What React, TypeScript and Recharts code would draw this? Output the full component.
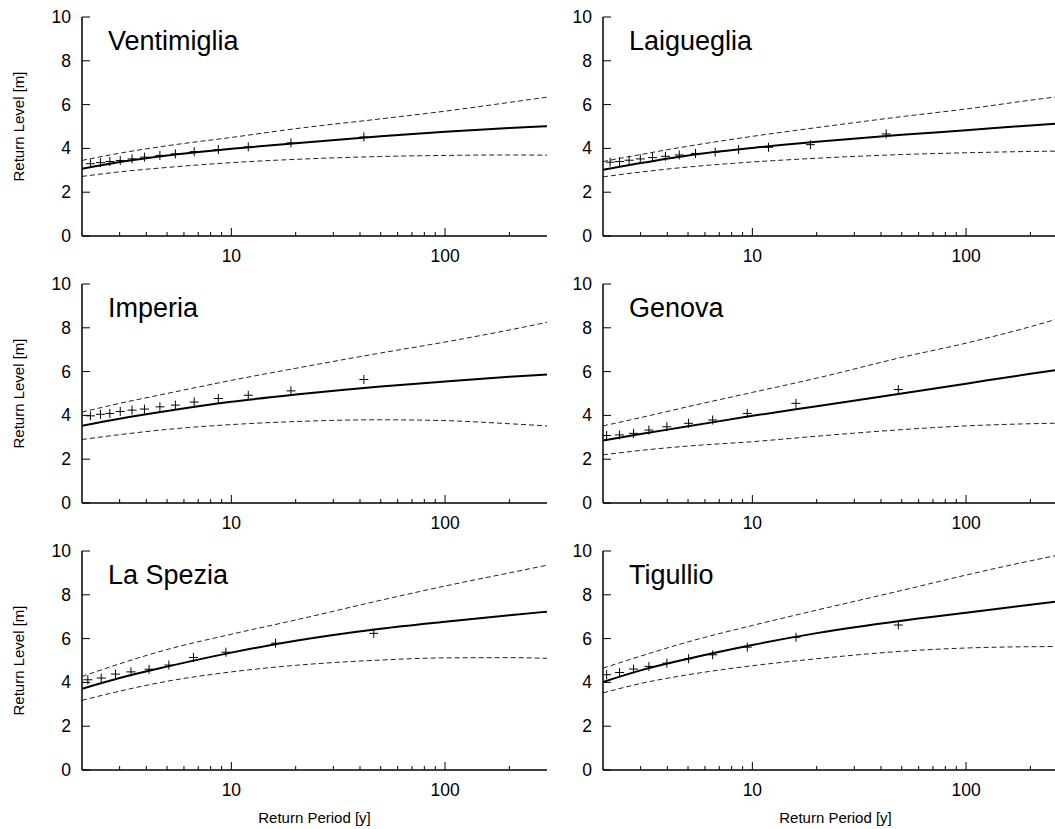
import React from 'react';
import { ComposedChart, Line, Scatter, XAxis, YAxis } from 'recharts';

const FONT = "'Liberation Sans', Arial, Helvetica, sans-serif";

// Return periods at which the fitted curve and its confidence band are sampled
const CURVE_T = [2, 3, 5, 10, 20, 50, 100, 200, 300];
const X_TICKS = [3, 4, 5, 6, 7, 8, 9, 10, 20, 30, 40, 50, 60, 70, 80, 90, 100, 200];
const X_MAJOR = [10, 100];
const Y_TICKS = [0, 2, 4, 6, 8, 10];

// Ventimiglia
const ventimigliaFit = [3.07, 3.38, 3.68, 3.98, 4.24, 4.55, 4.76, 4.93, 5.01];
const ventimigliaUpper = [3.45, 3.78, 4.12, 4.5, 4.9, 5.35, 5.7, 6.1, 6.34];
const ventimigliaLower = [2.72, 2.93, 3.13, 3.35, 3.5, 3.63, 3.68, 3.7, 3.69];
const ventimigliaObsT = [2.19, 2.44, 2.7, 3.02, 3.43, 3.92, 4.63, 5.47, 6.7, 8.69, 12.0, 19.0, 41.7];
const ventimigliaObs = [3.3, 3.35, 3.4, 3.45, 3.52, 3.6, 3.68, 3.75, 3.85, 3.95, 4.07, 4.25, 4.52];

// Laigueglia
const laiguegliaFit = [3.02, 3.33, 3.68, 4.02, 4.3, 4.62, 4.83, 5.05, 5.17];
const laiguegliaUpper = [3.4, 3.72, 4.1, 4.55, 4.95, 5.45, 5.8, 6.2, 6.42];
const laiguegliaLower = [2.7, 2.92, 3.15, 3.38, 3.55, 3.72, 3.8, 3.86, 3.88];
const laiguegliaObsT = [2.16, 2.39, 2.65, 2.99, 3.41, 3.92, 4.55, 5.42, 6.7, 8.62, 11.9, 18.7, 42.3];
const laiguegliaObs = [3.37, 3.4, 3.46, 3.52, 3.58, 3.64, 3.7, 3.77, 3.83, 3.95, 4.05, 4.17, 4.66];

// Imperia
const imperiaFit = [3.53, 3.85, 4.2, 4.62, 4.95, 5.32, 5.55, 5.76, 5.87];
const imperiaUpper = [4.15, 4.55, 5.0, 5.6, 6.15, 6.85, 7.35, 7.9, 8.25];
const imperiaLower = [2.9, 3.12, 3.36, 3.58, 3.72, 3.8, 3.76, 3.62, 3.52];
const imperiaObsT = [2.19, 2.44, 2.7, 3.02, 3.43, 3.92, 4.63, 5.47, 6.7, 8.69, 12.0, 19.0, 41.7];
const imperiaObs = [3.98, 4.05, 4.09, 4.18, 4.24, 4.29, 4.39, 4.47, 4.61, 4.77, 4.92, 5.12, 5.64];

// Genova
const genovaFit = [2.85, 3.15, 3.5, 3.98, 4.42, 5.0, 5.45, 5.9, 6.15];
const genovaUpper = [3.52, 3.9, 4.4, 5.05, 5.7, 6.65, 7.3, 8.05, 8.55];
const genovaLower = [2.2, 2.4, 2.6, 2.8, 3.05, 3.35, 3.52, 3.62, 3.65];
const genovaObsT = [2.08, 2.39, 2.78, 3.28, 3.98, 5.03, 6.52, 9.47, 16.0, 48.2];
const genovaObs = [3.08, 3.11, 3.18, 3.33, 3.48, 3.64, 3.79, 4.09, 4.55, 5.18];

// La Spezia
const laSpeziaFit = [3.71, 4.2, 4.72, 5.36, 5.9, 6.45, 6.77, 7.07, 7.23];
const laSpeziaUpper = [4.27, 4.85, 5.5, 6.2, 6.85, 7.75, 8.4, 9.0, 9.35];
const laSpeziaLower = [3.18, 3.6, 4.05, 4.48, 4.78, 5.02, 5.12, 5.13, 5.1];
const laSpeziaObsT = [2.13, 2.46, 2.87, 3.39, 4.12, 5.1, 6.65, 9.43, 16.1, 46.4];
const laSpeziaObs = [4.12, 4.2, 4.38, 4.48, 4.6, 4.79, 5.14, 5.38, 5.79, 6.24];

// Tigullio
const tigullioFit = [4.02, 4.55, 5.08, 5.71, 6.25, 6.82, 7.18, 7.55, 7.75];
const tigullioUpper = [4.65, 5.2, 5.85, 6.6, 7.3, 8.2, 8.9, 9.55, 9.9];
const tigullioLower = [3.52, 3.95, 4.35, 4.76, 5.08, 5.42, 5.57, 5.63, 5.64];
const tigullioObsT = [2.08, 2.39, 2.78, 3.28, 3.98, 5.03, 6.52, 9.47, 16.0, 48.2];
const tigullioObs = [4.35, 4.45, 4.61, 4.73, 4.88, 5.08, 5.26, 5.61, 6.06, 6.62];

const TITLES = ['Ventimiglia', 'Laigueglia', 'Imperia', 'Genova', 'La Spezia', 'Tigullio'];
const Y_LABEL = 'Return Level [m]';
const X_LABEL = 'Return Period [y]';

// geometry
const PLOT_W = 465;
const PLOT_H = 219;
const LW = 80;
const XH = 62;
const MT = 16;
const MR = 8;
const COL_LEFT = [82, 603];
const ROW_TOP = [17, 284, 551];

const curve = (vals: number[]) => CURVE_T.map((t, i) => ({ t, v: vals[i] }));
const points = (ts: number[], ys: number[]) => ts.map((t, i) => ({ t, y: ys[i] }));

const BottomTick = (p: any) => {
  const { x, y, payload } = p;
  const major = X_MAJOR.includes(payload.value);
  return (
    <g>
      <line x1={x} x2={x} y1={y} y2={y - (major ? 8 : 4)} stroke="#000" strokeWidth={1} />
      {major && (
        <text x={x} y={y + 26} textAnchor="middle" fontSize={17.5} fontFamily={FONT} fill="#000">
          {payload.value}
        </text>
      )}
    </g>
  );
};

const TopTick = (p: any) => {
  const { x, y, payload } = p;
  const major = X_MAJOR.includes(payload.value);
  return <line x1={x} x2={x} y1={y} y2={y + (major ? 8 : 4)} stroke="#000" strokeWidth={1} />;
};

const LeftTick = (p: any) => {
  const { x, y, payload } = p;
  return (
    <g>
      <line x1={x} x2={x + 8} y1={y} y2={y} stroke="#000" strokeWidth={1} />
      <text x={x - 11} y={y + 6} textAnchor="end" fontSize={17.5} fontFamily={FONT} fill="#000">
        {payload.value}
      </text>
    </g>
  );
};

const RightTick = (p: any) => {
  const { x, y } = p;
  return <line x1={x} x2={x - 8} y1={y} y2={y} stroke="#000" strokeWidth={1} />;
};

const Plus = (p: any) => {
  const { cx, cy } = p;
  if (cx == null || cy == null) return null;
  const r = 4.5;
  return (
    <g>
      <line x1={cx - r} x2={cx + r} y1={cy} y2={cy} stroke="#000" strokeWidth={1} />
      <line x1={cx} x2={cx} y1={cy - r} y2={cy + r} stroke="#000" strokeWidth={1} />
    </g>
  );
};

const LeftLabel = (p: any) => {
  const vb = p.viewBox || {};
  const cx = vb.x + 16;
  const cy = vb.y + vb.height / 2;
  return (
    <g>
      {p.showY && (
        <text
          x={cx}
          y={cy}
          transform={`rotate(-90 ${cx} ${cy})`}
          textAnchor="middle"
          dominantBaseline="central"
          fontSize={15}
          fontFamily={FONT}
          fill="#000"
        >
          {Y_LABEL}
        </text>
      )}
      <text x={vb.x + vb.width + 26} y={vb.y + 33} fontSize={27} fontFamily={FONT} fill="#000">
        {p.title}
      </text>
    </g>
  );
};

const BottomLabel = (p: any) => {
  const vb = p.viewBox || {};
  if (!p.show) return null;
  return (
    <text x={vb.x + vb.width / 2} y={vb.y + 53} textAnchor="middle" fontSize={15} fontFamily={FONT} fill="#000">
      {X_LABEL}
    </text>
  );
};

type PanelProps = {
  title: string;
  fit: number[];
  upper: number[];
  lower: number[];
  obsT: number[];
  obs: number[];
  col: number;
  row: number;
};

const Panel = ({ title, fit, upper, lower, obsT, obs, col, row }: PanelProps) => {
  const left = COL_LEFT[col] - LW;
  const top = ROW_TOP[row] - MT;
  const width = LW + PLOT_W + MR;
  const height = MT + PLOT_H + XH;
  return (
    <div style={{ position: 'absolute', left, top, width, height }}>
      <ComposedChart width={width} height={height} margin={{ top: MT, right: MR, left: 0, bottom: 0 }}>
        <XAxis
          xAxisId="b"
          dataKey="t"
          type="number"
          scale="log"
          domain={[2, 300]}
          allowDataOverflow
          ticks={X_TICKS}
          interval={0}
          height={XH}
          tickSize={0}
          tickMargin={0}
          tick={<BottomTick />}
          axisLine={{ stroke: '#000', strokeWidth: 1.5 }}
          tickLine={false}
          label={<BottomLabel show={row === 2} />}
        />
        <XAxis
          xAxisId="t"
          orientation="top"
          dataKey="t"
          type="number"
          scale="log"
          domain={[2, 300]}
          allowDataOverflow
          ticks={X_TICKS}
          interval={0}
          height={0}
          tickSize={0}
          tickMargin={0}
          tick={<TopTick />}
          axisLine={{ stroke: '#000', strokeWidth: 1.5 }}
          tickLine={false}
        />
        <YAxis
          yAxisId="l"
          type="number"
          domain={[0, 10]}
          allowDataOverflow
          ticks={Y_TICKS}
          interval={0}
          width={LW}
          tickSize={0}
          tickMargin={0}
          tick={<LeftTick />}
          axisLine={{ stroke: '#000', strokeWidth: 1.5 }}
          tickLine={false}
          label={<LeftLabel title={title} showY={col === 0} />}
        />
        <YAxis
          yAxisId="r"
          orientation="right"
          type="number"
          domain={[0, 10]}
          allowDataOverflow
          ticks={Y_TICKS}
          interval={0}
          width={0}
          tickSize={0}
          tickMargin={0}
          tick={<RightTick />}
          axisLine={{ stroke: '#000', strokeWidth: 1.5 }}
          tickLine={false}
        />
        <Line
          xAxisId="b"
          yAxisId="l"
          data={curve(upper)}
          dataKey="v"
          type="monotone"
          stroke="#222"
          strokeWidth={1}
          strokeDasharray="5 3"
          dot={false}
          activeDot={false}
          isAnimationActive={false}
        />
        <Line
          xAxisId="b"
          yAxisId="l"
          data={curve(lower)}
          dataKey="v"
          type="monotone"
          stroke="#222"
          strokeWidth={1}
          strokeDasharray="5 3"
          dot={false}
          activeDot={false}
          isAnimationActive={false}
        />
        <Line
          xAxisId="b"
          yAxisId="l"
          data={curve(fit)}
          dataKey="v"
          type="monotone"
          stroke="#000"
          strokeWidth={2}
          dot={false}
          activeDot={false}
          isAnimationActive={false}
        />
        <Scatter
          xAxisId="b"
          yAxisId="l"
          data={points(obsT, obs)}
          dataKey="y"
          shape={(p: any) => <Plus {...p} />}
          isAnimationActive={false}
        />
      </ComposedChart>
    </div>
  );
}

export default function App() {
  return (
    <div
      style={{
        position: 'absolute',
        left: 0,
        top: 0,
        width: 1055,
        height: 829,
        overflow: 'hidden',
        background: '#fff',
      }}
    >
      <Panel title={TITLES[0]} fit={ventimigliaFit} upper={ventimigliaUpper} lower={ventimigliaLower} obsT={ventimigliaObsT} obs={ventimigliaObs} col={0} row={0} />
      <Panel title={TITLES[1]} fit={laiguegliaFit} upper={laiguegliaUpper} lower={laiguegliaLower} obsT={laiguegliaObsT} obs={laiguegliaObs} col={1} row={0} />
      <Panel title={TITLES[2]} fit={imperiaFit} upper={imperiaUpper} lower={imperiaLower} obsT={imperiaObsT} obs={imperiaObs} col={0} row={1} />
      <Panel title={TITLES[3]} fit={genovaFit} upper={genovaUpper} lower={genovaLower} obsT={genovaObsT} obs={genovaObs} col={1} row={1} />
      <Panel title={TITLES[4]} fit={laSpeziaFit} upper={laSpeziaUpper} lower={laSpeziaLower} obsT={laSpeziaObsT} obs={laSpeziaObs} col={0} row={2} />
      <Panel title={TITLES[5]} fit={tigullioFit} upper={tigullioUpper} lower={tigullioLower} obsT={tigullioObsT} obs={tigullioObs} col={1} row={2} />
    </div>
  );
}
